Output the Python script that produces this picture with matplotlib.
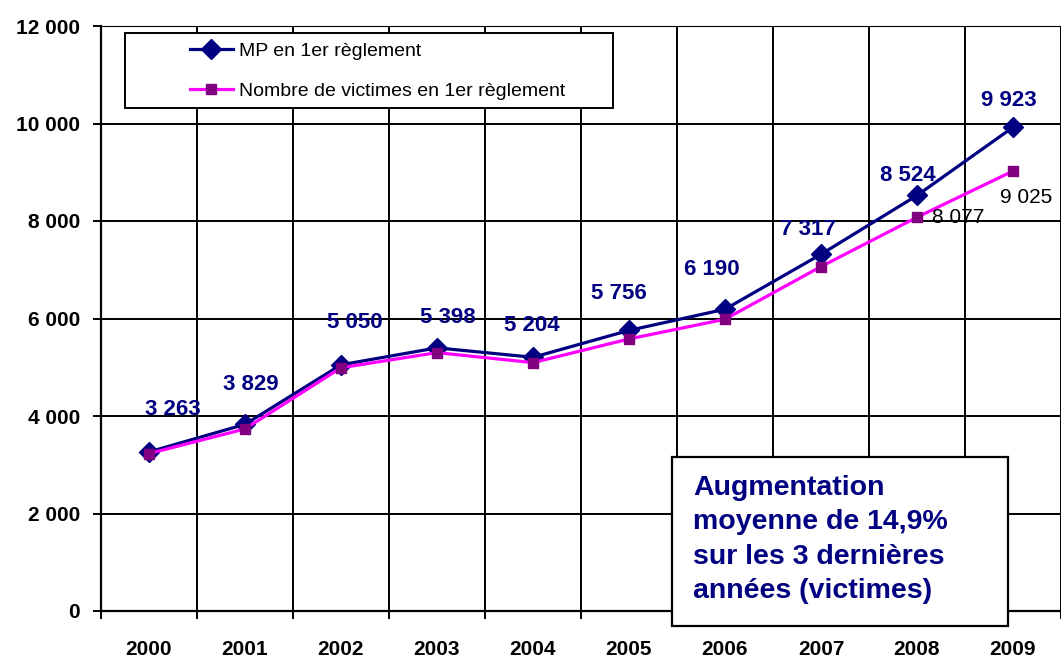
import matplotlib
matplotlib.use('Agg')
import matplotlib.pyplot as plt
import numpy as np

plt.rcParams['font.family'] = ['Liberation Sans', 'DejaVu Sans']

# Data
years = ['2000', '2001', '2002', '2003', '2004', '2005', '2006', '2007', '2008', '2009']
mp_values = [3263, 3829, 5050, 5398, 5204, 5756, 6190, 7317, 8524, 9923]
victims_values = [3230, 3735, 4990, 5300, 5095, 5580, 5985, 7065, 8077, 9025]
victims_labelled = ['2008', '2009']
y_ticks = [0, 2000, 4000, 6000, 8000, 10000, 12000]

# label placement (pixels, relative to the point) - like the manual excel layout
mp_label_offsets = [(24, 42), (6, 40), (14, 42), (11, 30), (-1, 32),
                    (-10, 37), (-13, 40), (-13, 25), (-9, 20), (-4, 27)]
victims_label_offsets = {'2008': (15, 0), '2009': (-13, -26)}

NAVY = '#000080'
PURPLE = '#800080'
MAGENTA = '#FF00FF'
PX = 72 / 100  # pixels -> points

fig = plt.figure(figsize=(10.61, 6.59), dpi=100)
ax = fig.add_axes([101 / 1061, 48 / 659, 960 / 1061, 585 / 659])

x = np.arange(len(years))
ax.plot(x, mp_values, color=NAVY, linewidth=2.3, marker='D', markersize=10,
        markerfacecolor=NAVY, markeredgecolor=NAVY, label='MP en 1er règlement', zorder=4)
ax.plot(x, victims_values, color=MAGENTA, linewidth=2.3, marker='s', markersize=7,
        markerfacecolor=PURPLE, markeredgecolor=PURPLE,
        label='Nombre de victimes en 1er règlement', zorder=5)

def fmt(v):
    return f'{v:,}'.replace(',', ' ')

# MP labels (bold, above)
for xi, v, (dx, dy) in zip(x, mp_values, mp_label_offsets):
    ax.annotate(fmt(v), xy=(xi, v), xytext=(dx * PX, dy * PX), textcoords='offset points',
                ha='center', va='center', fontsize=16, fontweight='bold', color=NAVY,
                zorder=6)

# victims labels, only the last years
for xi, v, yr in zip(x, victims_values, years):
    if yr in victims_labelled:
        dx, dy = victims_label_offsets[yr]
        ax.annotate(fmt(v), xy=(xi, v), xytext=(dx * PX, dy * PX), textcoords='offset points',
                    ha='left', va='center', fontsize=15, color='black',
                    annotation_clip=False, zorder=6)

ax.set_xlim(-0.5, len(years) - 0.5)
ax.set_ylim(0, 12000)
ax.set_yticks(y_ticks)
ax.set_yticklabels([fmt(v) for v in y_ticks], fontsize=15, fontweight='bold')
ax.set_xticks(x)
ax.set_xticklabels(years, fontsize=15, fontweight='bold')
ax.set_xticks(np.arange(-0.5, len(years)), minor=True)
ax.tick_params(axis='x', which='major', length=0, pad=21)
ax.tick_params(axis='x', which='minor', length=6, width=1.4, color='black')
ax.tick_params(axis='y', which='major', length=6, width=1.4, pad=9)

ax.grid(True, axis='y', which='major', color='black', linewidth=1.4)
ax.grid(True, axis='x', which='minor', color='black', linewidth=1.4)
ax.set_axisbelow(True)
for side in ['left', 'bottom']:
    ax.spines[side].set_linewidth(1.6)
ax.spines['right'].set_visible(False)

# legend frame drawn by hand (excel leaves a wide left margin)
fig_px = fig.transFigure
ax.add_patch(plt.Rectangle((125 / 1061, (659 - 108) / 659), 488 / 1061, 75 / 659,
                           transform=fig_px, facecolor='white', edgecolor='black',
                           linewidth=1.4, clip_on=False, zorder=8))
leg = ax.legend(loc='upper left', bbox_to_anchor=(89 / 960, (585 - 16) / 585), fontsize=14,
                frameon=False, handlelength=2.2, handletextpad=0.3,
                borderpad=0, labelspacing=1.15, borderaxespad=0)
leg.set_zorder(10)

# comment box
fig.text(693 / 1061, (659 - 475) / 659,
         'Augmentation\nmoyenne de 14,9%\nsur les 3 dernières\nannées (victimes)',
         ha='left', va='top', fontsize=20.5, fontweight='bold', color=NAVY,
         linespacing=1.42, zorder=20)
fig.patches.append(plt.Rectangle((672 / 1061, (659 - 626) / 659), 336 / 1061, 169 / 659,
                                 transform=fig_px, facecolor='white',
                                 edgecolor='black', linewidth=1.6, zorder=15))

fig.savefig('out.png', dpi=100)
